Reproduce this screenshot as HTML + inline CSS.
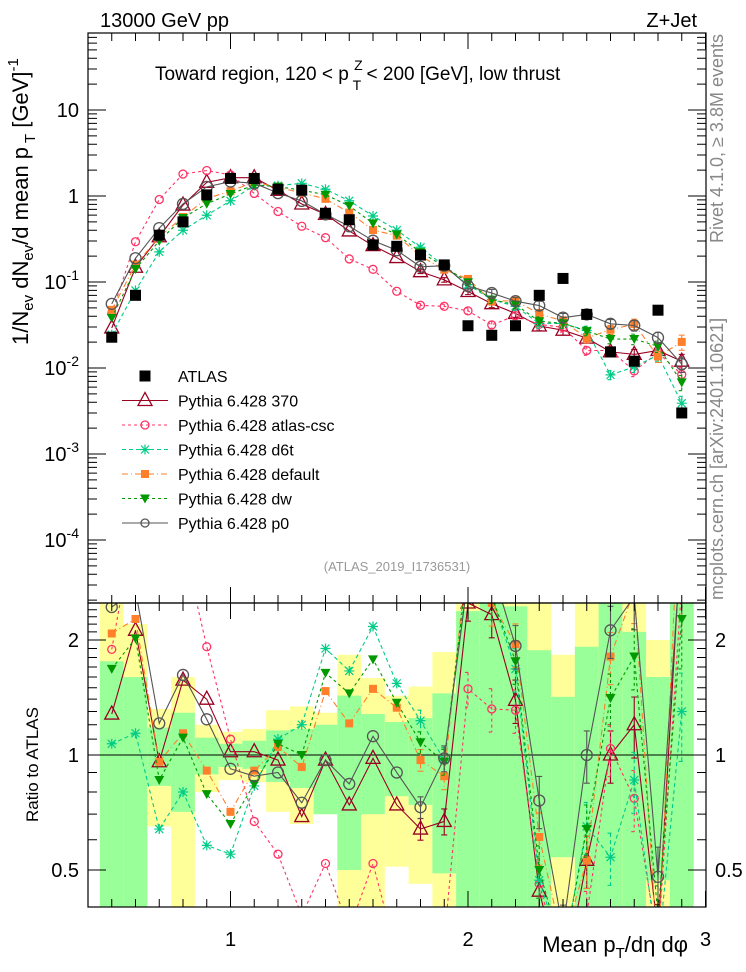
<!DOCTYPE html>
<html><head><meta charset="utf-8"><style>
html,body{margin:0;padding:0;background:#fff;}
svg{display:block;font-family:"Liberation Sans",sans-serif;}
</style></head><body>
<svg id="chart" width="746" height="972" viewBox="0 0 746 972">
<defs>
<clipPath id="clipMain"><rect x="88" y="33" width="618" height="570"/></clipPath>
<clipPath id="clipRatio"><rect x="88" y="603" width="618" height="304"/></clipPath>
</defs>
<g id="bands" clip-path="url(#clipRatio)"></g>
<g id="ratioMarks" clip-path="url(#clipRatio)"></g>
<g id="mainMarks" clip-path="url(#clipMain)"></g>
<g id="axes"></g>
<text x="100" y="27" font-size="20">13000 GeV pp</text>
<text x="697" y="27" font-size="20" text-anchor="end">Z+Jet</text>
<text x="155" y="80" font-size="19">Toward region, 120 &lt; p <tspan font-size="14" dy="-10">Z</tspan><tspan font-size="14" dx="-10" dy="20">T</tspan><tspan dy="-10"> &lt; 200 [GeV], low thrust</tspan></text>
<text x="397" y="571" font-size="13" fill="#999" text-anchor="middle">(ATLAS_2019_I1736531)</text>
<text transform="translate(723,243) rotate(-90)" font-size="18" fill="#888">Rivet 4.1.0, ≥ 3.8M events</text>
<text transform="translate(723,600) rotate(-90)" font-size="18" fill="#888">mcplots.cern.ch [arXiv:2401.10621]</text>
<text transform="translate(28,345) rotate(-90)" font-size="22">1/N<tspan font-size="15" dy="5">ev</tspan><tspan dy="-5"> dN</tspan><tspan font-size="15" dy="5">ev</tspan><tspan dy="-5">/d mean p</tspan><tspan font-size="15" dy="7"> T</tspan><tspan dy="-7"> [GeV]</tspan><tspan font-size="15" dy="-10">-1</tspan></text>
<text transform="translate(38,822) rotate(-90)" font-size="17">Ratio to ATLAS</text>
<text x="688" y="952" font-size="22" text-anchor="end">Mean p<tspan font-size="15" dy="6">T</tspan><tspan dy="-6">/dη dφ</tspan></text>
<g id="legend"></g>
</svg>
<script>
const xValues = [0.5,0.6,0.7,0.8,0.9,1.0,1.1,1.2,1.3,1.4,1.5,1.6,1.7,1.8,1.9,2.0,2.1,2.2,2.3,2.4,2.5,2.6,2.7,2.8,2.9];
const atlasValues = [0.0228,0.07,0.35,0.50,1.03,1.6,1.6,1.2,1.17,0.63,0.53,0.27,0.26,0.206,0.158,0.031,0.024,0.031,0.07,0.11,0.042,0.0154,0.012,0.047,0.003];
const ratio370 = [1.28,2.12,0.96,1.57,1.40,1.02,1.02,0.97,0.69,0.97,0.74,0.98,0.74,0.64,0.67,2.5,2.33,1.39,0.44,0.25,0.53,1.0,1.2,0.34,4.0];
const ratioAtlasCsc = [1.89,4.2,2.6,3.6,1.92,1.1,0.67,0.55,0.38,0.52,0.35,0.52,0.3,0.26,0.33,1.49,1.32,1.31,0.46,0.27,0.38,1.04,0.77,0.32,2.8];
const ratioD6t = [1.07,1.14,0.64,0.80,0.58,0.55,0.83,1.10,1.20,1.90,1.66,2.17,1.54,1.23,0.97,3.0,2.6,1.68,0.47,0.3,0.65,0.54,0.86,0.3,1.30];
const ratioDefault = [2.08,2.27,0.96,1.14,0.91,0.71,0.91,1.05,0.93,1.47,1.21,1.49,1.33,0.97,0.88,3.5,2.5,1.95,0.61,0.32,0.53,1.81,2.7,0.29,6.7];
const ratioDw = [1.68,2.02,0.86,1.11,0.79,0.66,0.84,1.07,1.0,1.64,1.45,1.78,1.37,1.08,0.96,3.2,2.6,1.76,0.50,0.3,0.64,1.41,1.81,0.38,2.27];
const ratioP0 = [2.44,2.7,1.21,1.62,1.24,0.92,0.88,0.90,0.75,0.97,0.84,1.12,0.90,0.73,0.98,2.9,3.1,1.93,0.76,0.35,1.0,2.12,2.6,0.48,3.7];
const mcRelErr = [0.03,0.02,0.02,0.02,0.02,0.02,0.02,0.02,0.02,0.03,0.03,0.03,0.04,0.05,0.06,0.08,0.1,0.1,0.12,0.12,0.12,0.12,0.14,0.15,0.2];
const greenHi = [1.76,1.60,1.18,1.29,1.11,1.07,1.09,1.16,1.17,1.20,1.43,1.28,1.22,1.25,1.45,2.38,2.5,2.45,1.88,1.42,1.92,3,2.1,1.6,3];
const greenLo = [0.3,0.3,0.83,0.71,0.89,0.93,0.92,0.85,0.82,0.70,0.5,0.70,0.78,0.74,0.49,0.3,0.3,0.3,0.3,0.54,0.3,0.3,0.3,0.47,0.3];
const yellowHi = [3,2.2,1.32,1.60,1.2,1.15,1.17,1.31,1.34,1.29,1.83,1.59,1.43,1.51,1.86,3,3,3,3,1.83,3,3,3,2.0,3];
const yellowLo = [0.3,0.3,0.65,0.3,0.8,0.86,0.85,0.71,0.66,0.70,0.3,0.3,0.51,0.46,0.3,0.3,0.3,0.3,0.3,0.3,0.3,0.3,0.3,0.3,0.3];
const xTickLabels = ["1","2","3"];
const yMainExps = [1,0,-1,-2,-3,-4];
const ratioTickLabels = ["0.5","1","2"];

const NS = "http://www.w3.org/2000/svg";
function X(v){ return 88 + (v - 0.4) * 237.5; }
function YM(v){ return 196 - 86 * Math.log10(v); }
function YR(r){ return 755 - 115 * Math.log2(r); }
function el(tag, attrs, parent){ const e = document.createElementNS(NS, tag); for (const k in attrs) e.setAttribute(k, attrs[k]); parent.appendChild(e); return e; }

const series = [
  {key:'370', name:'Pythia 6.428 370', r:ratio370, color:'#990022', dash:'', marker:'tri'},
  {key:'atlas-csc', name:'Pythia 6.428 atlas-csc', r:ratioAtlasCsc, color:'#ff3366', dash:'3,3', marker:'circS'},
  {key:'d6t', name:'Pythia 6.428 d6t', r:ratioD6t, color:'#00cc88', dash:'4,3', marker:'star'},
  {key:'default', name:'Pythia 6.428 default', r:ratioDefault, color:'#ff7f2a', dash:'6,3,1,3', marker:'sq'},
  {key:'dw', name:'Pythia 6.428 dw', r:ratioDw, color:'#009900', dash:'3,3', marker:'tdown'},
  {key:'p0', name:'Pythia 6.428 p0', r:ratioP0, color:'#555555', dash:'', marker:'circ'}
];

function marker(g, type, cx, cy, color){
  let m;
  if (type === 'tri') m = el('polygon', {points:`${cx},${cy-8} ${cx-7},${cy+5} ${cx+7},${cy+5}`, fill:'none', stroke:color, 'stroke-width':1.3}, g);
  else if (type === 'circS') m = el('circle', {cx:cx, cy:cy, r:4, fill:'none', stroke:color, 'stroke-width':1.3}, g);
  else if (type === 'circ') m = el('circle', {cx:cx, cy:cy, r:5.5, fill:'none', stroke:color, 'stroke-width':1.3}, g);
  else if (type === 'sq') m = el('rect', {x:cx-4, y:cy-4, width:8, height:8, fill:color}, g);
  else if (type === 'tdown') m = el('polygon', {points:`${cx-5},${cy-4} ${cx+5},${cy-4} ${cx},${cy+5}`, fill:color}, g);
  else if (type === 'star') { m = el('path', {d:`M${cx-5},${cy}H${cx+5}M${cx},${cy-5}V${cy+5}M${cx-4},${cy-4}L${cx+4},${cy+4}M${cx-4},${cy+4}L${cx+4},${cy-4}`, stroke:color, 'stroke-width':1.2, fill:'none'}, g); }
  else if (type === 'atlas') m = el('rect', {x:cx-5.5, y:cy-5.5, width:11, height:11, fill:'#000'}, g);
  return m;
}

// bands
const bandG = document.getElementById('bands');
xValues.forEach((v, i) => {
  const x0 = X(v - 0.05), w = X(v + 0.05) - x0;
  const yb = el('rect', {x:x0, y:YR(yellowHi[i]), width:w, height:YR(yellowLo[i]) - YR(yellowHi[i]), fill:'#ffff99'}, bandG);
  
  
  const gb = el('rect', {x:x0, y:YR(greenHi[i]), width:w, height:YR(greenLo[i]) - YR(greenHi[i]), fill:'#99ff99'}, bandG);
  
  
});
el('line', {x1:88, x2:706, y1:YR(1), y2:YR(1), stroke:'#000', 'stroke-width':1}, document.getElementById('ratioMarks'));

// series
const mainG = document.getElementById('mainMarks');
const ratG = document.getElementById('ratioMarks');
series.forEach(s => {
  const vals = xValues.map((v, i) => atlasValues[i] * s.r[i]);
  const gm = el('g', {}, mainG);
  
  
  const gr = el('g', {}, ratG);
  
  
  const lineAttr = {fill:'none', stroke:s.color, 'stroke-width':1.1};
  if (s.dash) lineAttr['stroke-dasharray'] = s.dash;
  el('polyline', Object.assign({points: xValues.map((v, i) => X(v) + ',' + YM(vals[i])).join(' ')}, lineAttr), gm);
  el('polyline', Object.assign({points: xValues.map((v, i) => X(v) + ',' + YR(s.r[i])).join(' ')}, lineAttr), gr);
  xValues.forEach((v, i) => {
    const e = mcRelErr[i];
    if (e > 0.04) {
      const eb = Object.assign({}, lineAttr, {'stroke-dasharray': s.dash || ''});
      el('path', Object.assign(eb, {d:`M${X(v)},${YM(vals[i]*(1+e))}V${YM(vals[i]*(1-e))}M${X(v)-3},${YM(vals[i]*(1+e))}h6M${X(v)-3},${YM(vals[i]*(1-e))}h6`}), gm);
      const eb2 = Object.assign({}, lineAttr, {'stroke-dasharray': s.dash || ''});
      el('path', Object.assign(eb2, {d:`M${X(v)},${YR(s.r[i]*(1+e*1.3))}V${YR(s.r[i]*(1-e*1.3))}M${X(v)-3},${YR(s.r[i]*(1+e*1.3))}h6M${X(v)-3},${YR(s.r[i]*(1-e*1.3))}h6`}), gr);
    }
    const m1 = marker(gm, s.marker, X(v), YM(vals[i]), s.color);
    
    
    const m2 = marker(gr, s.marker, X(v), YR(s.r[i]), s.color);
    
    
  });
});
// ATLAS data
const ga = el('g', {}, mainG);


xValues.forEach((v, i) => {
  const m = marker(ga, 'atlas', X(v), YM(atlasValues[i]), '#000');
  
  
});

// axes
const ax = document.getElementById('axes');
el('rect', {x:88, y:33, width:618, height:570, fill:'none', stroke:'#000', 'stroke-width':1.2}, ax);
el('rect', {x:88, y:603, width:618, height:304, fill:'none', stroke:'#000', 'stroke-width':1.2}, ax);
let tk = '';
for (let k = 4; k <= 30; k++) {
  const v = k / 10, x = X(v), major = (k % 10 === 0);
  const L = major ? 16 : 8;
  tk += `M${x},603v-${L}M${x},33v${L}M${x},907v-${L}M${x},603v${L}`;
}
for (let d = -5; d <= 1; d++) {
  for (let m = 1; m <= 9; m++) {
    const v = m * Math.pow(10, d), y = YM(v);
    if (y < 33 || y > 603) continue;
    const L = m === 1 ? 18 : 9;
    tk += `M88,${y}h${L}M706,${y}h-${L}`;
  }
}
for (let k = 4; k <= 25; k++) {
  const r = k / 10, y = YR(r);
  if (y < 603 || y > 907) continue;
  const L = (k === 5 || k === 10 || k === 20) ? 18 : 9;
  tk += `M88,${y}h${L}M706,${y}h-${L}`;
}
el('path', {d:tk, stroke:'#000', 'stroke-width':1, fill:'none'}, ax);
xTickLabels.forEach(t => {
  const tx = el('text', {x:X(+t), y:946, 'font-size':20, 'text-anchor':'middle'}, ax);
  tx.textContent = t;
  
  
});
yMainExps.forEach(e => {
  const y = YM(Math.pow(10, e)) + 7;
  const tx = el('text', {x:79, y:y, 'font-size':20, 'text-anchor':'end'}, ax);
  if (e === 0) tx.textContent = '1';
  else if (e === 1) tx.textContent = '10';
  else { tx.textContent = '10'; const sp = el('tspan', {'font-size':14, dy:-9}, tx); sp.textContent = String(e); }
  
  
});
ratioTickLabels.forEach(t => {
  const y = YR(+t) + 7;
  const a = el('text', {x:79, y:y, 'font-size':20, 'text-anchor':'end'}, ax);
  a.textContent = t;
  
  
  const b = el('text', {x:715, y:y, 'font-size':20}, ax);
  b.textContent = t;
  
  
});

// legend
const lg = document.getElementById('legend');
const legY0 = 376, legDy = 24.5;
const le0 = el('g', {}, lg);


marker(le0, 'atlas', 145, legY0, '#000');
const t0 = el('text', {x:178, y:legY0 + 6, 'font-size':16}, le0);
t0.textContent = 'ATLAS';
series.forEach((s, i) => {
  const y = legY0 + legDy * (i + 1);
  const g = el('g', {}, lg);
  
  
  const la = {x1:122, x2:168, y1:y, y2:y, stroke:s.color, 'stroke-width':1.1};
  if (s.dash) la['stroke-dasharray'] = s.dash;
  el('line', la, g);
  marker(g, s.marker === 'circ' ? 'circS' : s.marker, 145, y, s.color);
  const t = el('text', {x:178, y:y + 6, 'font-size':16}, g);
  t.textContent = s.name;
});
</script>
</body></html>
